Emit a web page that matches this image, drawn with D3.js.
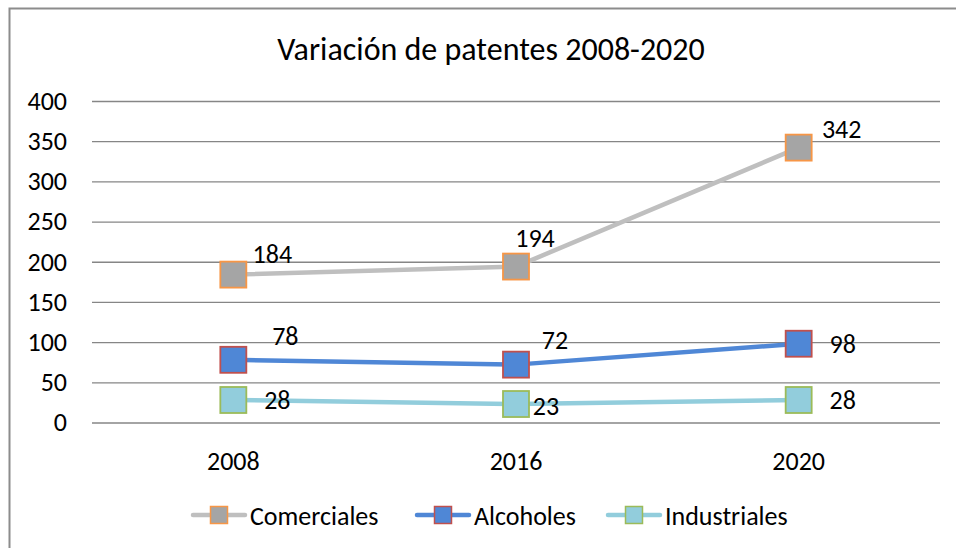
<!DOCTYPE html>
<html><head><meta charset="utf-8">
<script src="https://cdn.jsdelivr.net/npm/d3@7"></script>
<style>body{margin:0;background:#fff}svg{display:block}text{font-family:Carlito,Lato,"Liberation Sans",sans-serif;fill:#000}</style>
</head><body><svg id="c" width="956" height="548"></svg>
<script>
const title = "Variación de patentes 2008-2020";
const categories = ["2008", "2016", "2020"];
const seriesNames = ["Comerciales", "Alcoholes", "Industriales"];
const comerciales = [184, 194, 342];
const alcoholes = [78, 72, 98];
const industriales = [28, 23, 28];
const yTicks = [0, 50, 100, 150, 200, 250, 300, 350, 400];

const styles = [
  {line:"#BFBFBF", fill:"#A5A5A5", stroke:"#F79646"},
  {line:"#4F87D6", fill:"#4F87D6", stroke:"#C0504D"},
  {line:"#92CDDC", fill:"#92CDDC", stroke:"#9BBB59"}
];
// label offsets (dx, dy) per series/point
const labelOffsets = [
  [[39,-21],[19,-29],[43,-19]],
  [[52,-24],[39,-25],[44,0]],
  [[44,0],[30,2],[44,0]]
];
const seriesData = [comerciales, alcoholes, industriales];

const svg = d3.select("#c");
svg.append("rect").attr("x",9.5).attr("y",8.5).attr("width",960).attr("height",560)
  .attr("fill","#fff").attr("stroke","#8C8C8C").attr("stroke-width",2);

const x = d3.scaleBand().domain(categories).range([92,940]);
const y = d3.scaleLinear().domain([0,400]).range([422.5,101]);
const cx = d => x(d) + x.bandwidth()/2;

svg.append("text").attr("x",491).attr("y",49).attr("text-anchor","middle")
  .attr("dominant-baseline","central").style("font-size","32px").text(title);

const yAxis = svg.append("g").attr("transform","translate(92,0)")
  .call(d3.axisLeft(y).tickValues(yTicks).tickSize(-848).tickPadding(25));
yAxis.select(".domain").remove();
yAxis.selectAll("line").attr("stroke","#868686").attr("stroke-width",1.3);
yAxis.selectAll("text").style("font-size","26px").attr("font-family",null);

const xAxis = svg.append("g").attr("transform","translate(0,422.5)")
  .call(d3.axisBottom(x).tickSize(0).tickPadding(29));
xAxis.select(".domain").remove();
xAxis.selectAll("text").style("font-size","26px").attr("font-family",null);

const line = d3.line().x((d,i)=>cx(categories[i])).y(d=>y(d));
const ms = 26;
seriesData.forEach((vals, si) => {
  const st = styles[si];
  svg.append("path").datum(vals).attr("d", line).attr("fill","none")
    .attr("stroke", st.line).attr("stroke-width",4.5).attr("stroke-linejoin","round").attr("stroke-linecap","round");
  svg.selectAll(null).data(vals).enter().append("rect")
    .attr("x",(d,i)=>cx(categories[i])-ms/2).attr("y",d=>y(d)-ms/2)
    .attr("width",ms).attr("height",ms).attr("fill",st.fill)
    .attr("stroke",st.stroke).attr("stroke-width",1.8);
  svg.selectAll(null).data(vals).enter().append("text")
    .attr("x",(d,i)=>cx(categories[i])+labelOffsets[si][i][0])
    .attr("y",(d,i)=>y(d)+labelOffsets[si][i][1])
    .attr("text-anchor","middle").attr("dominant-baseline","central")
    .style("font-size","26px").text(d=>d);
});

// legend
const legendX = [219, 443, 634];
const ly = 515;
seriesNames.forEach((n, si) => {
  const st = styles[si];
  const g = svg.append("g");
  g.append("line").attr("x1",legendX[si]-26).attr("x2",legendX[si]+26).attr("y1",ly).attr("y2",ly)
    .attr("stroke",st.line).attr("stroke-width",4.5).attr("stroke-linecap","round");
  g.append("rect").attr("x",legendX[si]-8.5).attr("y",ly-8.5).attr("width",17).attr("height",17)
    .attr("fill",st.fill).attr("stroke",st.stroke).attr("stroke-width",1.5);
  g.append("text").attr("x",legendX[si]+31).attr("y",ly+1).attr("dominant-baseline","central")
    .style("font-size","26px").text(n);
});
</script></body></html>
